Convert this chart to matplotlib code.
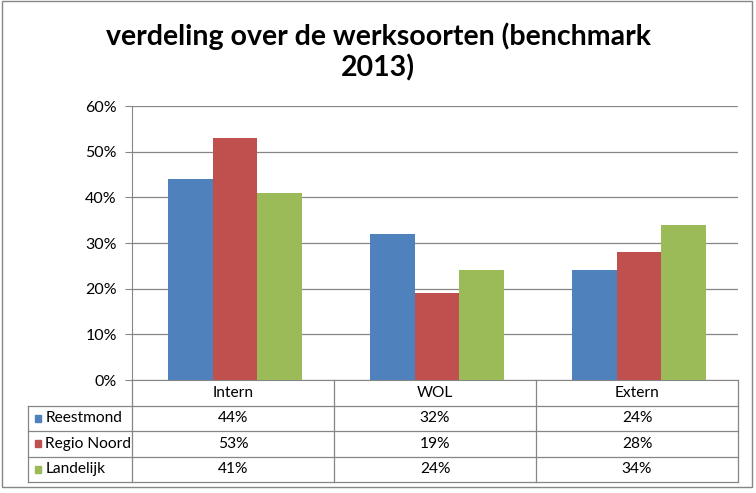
import matplotlib.pyplot as plt
from matplotlib.patches import Rectangle
import numpy as np

# data
categories = ["Intern", "WOL", "Extern"]
series = ["Reestmond", "Regio Noord", "Landelijk"]
reestmond = [44, 32, 24]
regio_noord = [53, 19, 28]
landelijk = [41, 24, 34]
colors = ["#4F81BD", "#C0504D", "#9BBB59"]

plt.rcParams['font.family'] = ['Lato', 'DejaVu Sans']

W, H = 756, 493
fig = plt.figure(figsize=(W / 100, H / 100), dpi=100)

# axes in pixel coords: x 132..738, y 106..380
x0, x1, y0, y1 = 132, 738, 106, 380
ax = fig.add_axes([x0 / W, 1 - y1 / H, (x1 - x0) / W, (y1 - y0) / H])

values = [reestmond, regio_noord, landelijk]
bw = 0.22
x = np.arange(len(categories))
for i, (name, vals) in enumerate(zip(series, values)):
    ax.bar(x + 0.01 + (i - 1) * bw, vals, width=bw, color=colors[i], zorder=3)

ax.set_xlim(-0.5, len(categories) - 0.5)
ax.set_ylim(0, 60)
ax.set_yticks(range(0, 61, 10))
ax.set_yticklabels([f"{v}%" for v in range(0, 61, 10)], fontsize=11.5)
ax.yaxis.grid(True, color="#868686", linewidth=0.9, zorder=0)
ax.set_xticks([])
ax.tick_params(axis='y', direction='out', length=5, color="#868686", pad=6)
for s in ["top", "right"]:
    ax.spines[s].set_visible(False)
for s in ["left", "bottom"]:
    ax.spines[s].set_color("#868686")

fig.text(0.5, 1 - 52 / H, "verdeling over de werksoorten (benchmark\n2013)",
         ha="center", va="center", fontsize=20.5, fontweight="bold",
         linespacing=1.2)

# data table below the axes, drawn with lines in axes coordinates
line_kw = dict(color="#868686", linewidth=0.9, clip_on=False)
row_h = 25.5 / (y1 - y0)
tab_left = -0.5 - (x0 - 28) / (x1 - x0) * 3
trans = ax.get_xaxis_transform()
bottom = -4 * row_h
for xv in [-0.5, 0.5, 1.5, 2.5]:
    ax.plot([xv, xv], [0, bottom], transform=trans, **line_kw)
ax.plot([tab_left, tab_left], [-row_h, bottom], transform=trans, **line_kw)
for r in range(1, 5):
    ax.plot([tab_left, 2.5], [-r * row_h] * 2, transform=trans, **line_kw)

fs = 11.2
for j, cat in enumerate(categories):
    ax.text(j, -0.5 * row_h, cat, transform=trans, ha="center", va="center",
            fontsize=fs)
for i, (name, vals) in enumerate(zip(series, values)):
    yc = -(i + 1.5) * row_h
    ax.add_patch(Rectangle((tab_left + 0.035, yc - 0.012), 0.03, 0.024,
                           transform=trans, color=colors[i], clip_on=False))
    ax.text(tab_left + 0.085, yc, name, transform=trans, ha="left",
            va="center", fontsize=fs)
    for j, v in enumerate(vals):
        ax.text(j, yc, f"{v}%", transform=trans, ha="center", va="center",
                fontsize=fs)

# outer chart border
fig.patches.append(Rectangle((2 / W, 6 / H), 750 / W, 486 / H,
                             transform=fig.transFigure, fill=False,
                             edgecolor="#868686", linewidth=1))

fig.savefig("out.png", dpi=100)
